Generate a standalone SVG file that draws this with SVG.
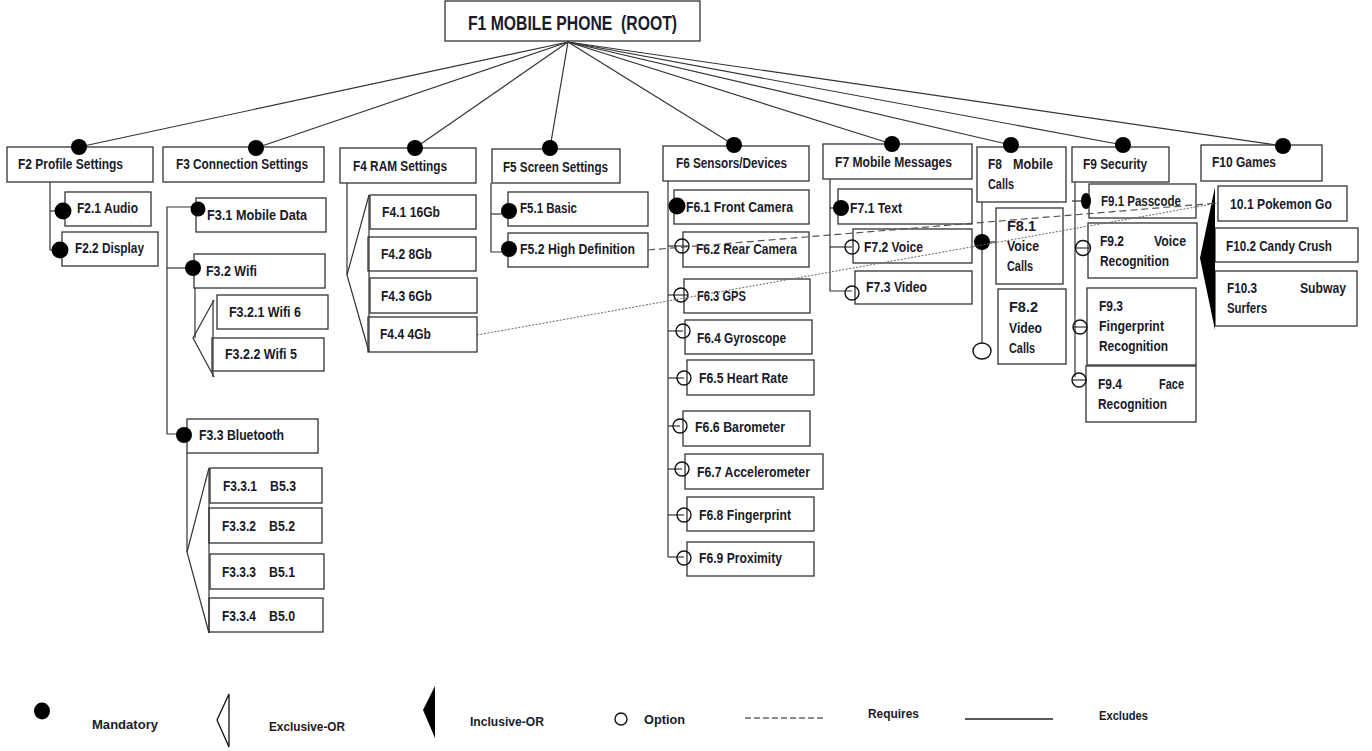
<svg xmlns="http://www.w3.org/2000/svg" width="1372" height="751" viewBox="0 0 1372 751">
<style>
.box{fill:#fff;stroke:#333;stroke-width:1.3}
.t{font-family:"Liberation Sans",Arial,sans-serif;font-weight:bold;font-size:14px;fill:#1a1a2a}
.lg{font-family:"Liberation Sans",Arial,sans-serif;font-weight:bold;font-size:13px;fill:#1a1a2a}
.ln{stroke:#333;stroke-width:1.2;fill:none}
.dot{fill:#000}
.opt{fill:none;stroke:#111;stroke-width:1.4}
.req{stroke:#555;stroke-width:1.2;stroke-dasharray:7 4;fill:none}
.exc{stroke:#666;stroke-width:1;stroke-dasharray:2 1.5;fill:none}
</style>
<rect width="1372" height="751" fill="#fff"/>
<g id="nodes">
<g id="F1"><rect class="box" x="445" y="1" width="255" height="40"/><text class="t" style="font-size:20px" x="468" y="30" textLength="209" lengthAdjust="spacingAndGlyphs">F1 MOBILE PHONE&#160; (ROOT)</text></g>
<g id="F2"><rect class="box" x="7" y="147" width="146" height="35"/><text class="t" x="18" y="169" textLength="105" lengthAdjust="spacingAndGlyphs">F2 Profile Settings</text></g>
<g id="F2.1"><rect class="box" x="65" y="192" width="86" height="34"/><text class="t" x="77" y="213" textLength="61" lengthAdjust="spacingAndGlyphs">F2.1 Audio</text></g>
<g id="F2.2"><rect class="box" x="62" y="232" width="96" height="34"/><text class="t" x="75" y="253" textLength="69" lengthAdjust="spacingAndGlyphs">F2.2 Display</text></g>
<g id="F3"><rect class="box" x="163" y="147" width="161" height="35"/><text class="t" x="176" y="169" textLength="132" lengthAdjust="spacingAndGlyphs">F3 Connection Settings</text></g>
<g id="F3.1"><rect class="box" x="196" y="198" width="130" height="34"/><text class="t" x="207" y="220" textLength="100" lengthAdjust="spacingAndGlyphs">F3.1 Mobile Data</text></g>
<g id="F3.2"><rect class="box" x="194" y="254" width="131" height="34"/><text class="t" x="206" y="276" textLength="51" lengthAdjust="spacingAndGlyphs">F3.2 Wifi</text></g>
<g id="F3.2.1"><rect class="box" x="217" y="295" width="111" height="34"/><text class="t" x="229" y="317" textLength="72" lengthAdjust="spacingAndGlyphs">F3.2.1 Wifi 6</text></g>
<g id="F3.2.2"><rect class="box" x="212" y="338" width="112" height="33"/><text class="t" x="225" y="359" textLength="72" lengthAdjust="spacingAndGlyphs">F3.2.2 Wifi 5</text></g>
<g id="F3.3"><rect class="box" x="187" y="419" width="131" height="34"/><text class="t" x="199" y="440" textLength="85" lengthAdjust="spacingAndGlyphs">F3.3 Bluetooth</text></g>
<g id="F3.3.1"><rect class="box" x="210" y="468" width="112" height="35"/><text class="t" x="223" y="491" textLength="34" lengthAdjust="spacingAndGlyphs">F3.3.1</text><text class="t" x="270" y="491" textLength="26" lengthAdjust="spacingAndGlyphs">B5.3</text></g>
<g id="F3.3.2"><rect class="box" x="209" y="508" width="113" height="35"/><text class="t" x="222" y="531" textLength="34" lengthAdjust="spacingAndGlyphs">F3.3.2</text><text class="t" x="269" y="531" textLength="26" lengthAdjust="spacingAndGlyphs">B5.2</text></g>
<g id="F3.3.3"><rect class="box" x="210" y="554" width="114" height="35"/><text class="t" x="222" y="577" textLength="34" lengthAdjust="spacingAndGlyphs">F3.3.3</text><text class="t" x="269" y="577" textLength="26" lengthAdjust="spacingAndGlyphs">B5.1</text></g>
<g id="F3.3.4"><rect class="box" x="209" y="598" width="114" height="34"/><text class="t" x="222" y="621" textLength="34" lengthAdjust="spacingAndGlyphs">F3.3.4</text><text class="t" x="269" y="621" textLength="26" lengthAdjust="spacingAndGlyphs">B5.0</text></g>
<g id="F4"><rect class="box" x="340" y="148" width="136" height="35"/><text class="t" x="353" y="171" textLength="94" lengthAdjust="spacingAndGlyphs">F4 RAM Settings</text></g>
<g id="F4.1"><rect class="box" x="370" y="195" width="106" height="34"/><text class="t" x="382" y="217" textLength="58" lengthAdjust="spacingAndGlyphs">F4.1 16Gb</text></g>
<g id="F4.2"><rect class="box" x="368" y="237" width="108" height="34"/><text class="t" x="381" y="259" textLength="51" lengthAdjust="spacingAndGlyphs">F4.2 8Gb</text></g>
<g id="F4.3"><rect class="box" x="370" y="278" width="107" height="35"/><text class="t" x="381" y="301" textLength="51" lengthAdjust="spacingAndGlyphs">F4.3 6Gb</text></g>
<g id="F4.4"><rect class="box" x="368" y="317" width="109" height="35"/><text class="t" x="380" y="339" textLength="51" lengthAdjust="spacingAndGlyphs">F4.4 4Gb</text></g>
<g id="F5"><rect class="box" x="492" y="149" width="128" height="34"/><text class="t" x="503" y="172" textLength="105" lengthAdjust="spacingAndGlyphs">F5 Screen Settings</text></g>
<g id="F5.1"><rect class="box" x="508" y="192" width="140" height="34"/><text class="t" x="520" y="213" textLength="57" lengthAdjust="spacingAndGlyphs">F5.1 Basic</text></g>
<g id="F5.2"><rect class="box" x="508" y="233" width="140" height="34"/><text class="t" x="520" y="254" textLength="115" lengthAdjust="spacingAndGlyphs">F5.2 High Definition</text></g>
<g id="F6"><rect class="box" x="663" y="146" width="146" height="35"/><text class="t" x="676" y="168" textLength="111" lengthAdjust="spacingAndGlyphs">F6 Sensors/Devices</text></g>
<g id="F6.1"><rect class="box" x="674" y="190" width="135" height="34"/><text class="t" x="686" y="212" textLength="107" lengthAdjust="spacingAndGlyphs">F6.1 Front Camera</text></g>
<g id="F6.2"><rect class="box" x="683" y="232" width="126" height="35"/><text class="t" x="696" y="254" textLength="101" lengthAdjust="spacingAndGlyphs">F6.2 Rear Camera</text></g>
<g id="F6.3"><rect class="box" x="684" y="279" width="126" height="34"/><text class="t" x="697" y="301" textLength="49" lengthAdjust="spacingAndGlyphs">F6.3 GPS</text></g>
<g id="F6.4"><rect class="box" x="685" y="320" width="127" height="34"/><text class="t" x="697" y="343" textLength="89" lengthAdjust="spacingAndGlyphs">F6.4 Gyroscope</text></g>
<g id="F6.5"><rect class="box" x="687" y="360" width="127" height="35"/><text class="t" x="699" y="383" textLength="89" lengthAdjust="spacingAndGlyphs">F6.5 Heart Rate</text></g>
<g id="F6.6"><rect class="box" x="683" y="411" width="127" height="35"/><text class="t" x="695" y="432" textLength="90" lengthAdjust="spacingAndGlyphs">F6.6 Barometer</text></g>
<g id="F6.7"><rect class="box" x="685" y="454" width="138" height="35"/><text class="t" x="697" y="477" textLength="113" lengthAdjust="spacingAndGlyphs">F6.7 Accelerometer</text></g>
<g id="F6.8"><rect class="box" x="687" y="497" width="127" height="34"/><text class="t" x="699" y="520" textLength="92" lengthAdjust="spacingAndGlyphs">F6.8 Fingerprint</text></g>
<g id="F6.9"><rect class="box" x="687" y="542" width="127" height="34"/><text class="t" x="699" y="563" textLength="83" lengthAdjust="spacingAndGlyphs">F6.9 Proximity</text></g>
<g id="F7"><rect class="box" x="823" y="144" width="149" height="35"/><text class="t" x="835" y="167" textLength="117" lengthAdjust="spacingAndGlyphs">F7 Mobile Messages</text></g>
<g id="F7.1"><rect class="box" x="838" y="189" width="134" height="35"/><text class="t" x="850" y="213" textLength="52" lengthAdjust="spacingAndGlyphs">F7.1 Text</text></g>
<g id="F7.2"><rect class="box" x="853" y="229" width="119" height="34"/><text class="t" x="864" y="252" textLength="59" lengthAdjust="spacingAndGlyphs">F7.2 Voice</text></g>
<g id="F7.3"><rect class="box" x="855" y="271" width="117" height="33"/><text class="t" x="866" y="292" textLength="61" lengthAdjust="spacingAndGlyphs">F7.3 Video</text></g>
<g id="F8"><rect class="box" x="977" y="147" width="89" height="55"/><text class="t" x="988" y="169" textLength="14" lengthAdjust="spacingAndGlyphs">F8</text><text class="t" x="1013" y="169" textLength="40" lengthAdjust="spacingAndGlyphs">Mobile</text><text class="t" x="988" y="189" textLength="26" lengthAdjust="spacingAndGlyphs">Calls</text></g>
<g id="F8.1"><rect class="box" x="996" y="208" width="67" height="76"/><text class="t" x="1007" y="231" textLength="29" lengthAdjust="spacingAndGlyphs">F8.1</text><text class="t" x="1007" y="251" textLength="32" lengthAdjust="spacingAndGlyphs">Voice</text><text class="t" x="1007" y="271" textLength="26" lengthAdjust="spacingAndGlyphs">Calls</text></g>
<g id="F8.2"><rect class="box" x="998" y="289" width="68" height="75"/><text class="t" x="1009" y="312" textLength="29" lengthAdjust="spacingAndGlyphs">F8.2</text><text class="t" x="1009" y="333" textLength="33" lengthAdjust="spacingAndGlyphs">Video</text><text class="t" x="1009" y="353" textLength="26" lengthAdjust="spacingAndGlyphs">Calls</text></g>
<g id="F9"><rect class="box" x="1072" y="147" width="97" height="35"/><text class="t" x="1083" y="169" textLength="64" lengthAdjust="spacingAndGlyphs">F9 Security</text></g>
<g id="F9.1"><rect class="box" x="1089" y="184" width="107" height="34"/><text class="t" x="1101" y="206" textLength="80" lengthAdjust="spacingAndGlyphs">F9.1 Passcode</text></g>
<g id="F9.2"><rect class="box" x="1088" y="223" width="109" height="55"/><text class="t" x="1100" y="246" textLength="24" lengthAdjust="spacingAndGlyphs">F9.2</text><text class="t" x="1154" y="246" textLength="32" lengthAdjust="spacingAndGlyphs">Voice</text><text class="t" x="1100" y="266" textLength="69" lengthAdjust="spacingAndGlyphs">Recognition</text></g>
<g id="F9.3"><rect class="box" x="1087" y="288" width="109" height="77"/><text class="t" x="1099" y="311" textLength="24" lengthAdjust="spacingAndGlyphs">F9.3</text><text class="t" x="1099" y="331" textLength="65" lengthAdjust="spacingAndGlyphs">Fingerprint</text><text class="t" x="1099" y="351" textLength="69" lengthAdjust="spacingAndGlyphs">Recognition</text></g>
<g id="F9.4"><rect class="box" x="1086" y="366" width="110" height="56"/><text class="t" x="1098" y="389" textLength="24" lengthAdjust="spacingAndGlyphs">F9.4</text><text class="t" x="1159" y="389" textLength="25" lengthAdjust="spacingAndGlyphs">Face</text><text class="t" x="1098" y="409" textLength="69" lengthAdjust="spacingAndGlyphs">Recognition</text></g>
<g id="F10"><rect class="box" x="1201" y="145" width="121" height="36"/><text class="t" x="1212" y="167" textLength="64" lengthAdjust="spacingAndGlyphs">F10 Games</text></g>
<g id="F10.1"><rect class="box" x="1218" y="186" width="129" height="35"/><text class="t" x="1230" y="209" textLength="102" lengthAdjust="spacingAndGlyphs">10.1 Pokemon Go</text></g>
<g id="F10.2"><rect class="box" x="1215" y="228" width="143" height="34"/><text class="t" x="1226" y="251" textLength="106" lengthAdjust="spacingAndGlyphs">F10.2 Candy Crush</text></g>
<g id="F10.3"><rect class="box" x="1215" y="271" width="142" height="55"/><text class="t" x="1227" y="293" textLength="30" lengthAdjust="spacingAndGlyphs">F10.3</text><text class="t" x="1300" y="293" textLength="46" lengthAdjust="spacingAndGlyphs">Subway</text><text class="t" x="1227" y="313" textLength="40" lengthAdjust="spacingAndGlyphs">Surfers</text></g>
</g>
<g id="connectors">
<g class="ln">
<line x1="568" y1="42" x2="79" y2="147"/>
<line x1="568" y1="42" x2="256" y2="148"/>
<line x1="568" y1="42" x2="415" y2="148"/>
<line x1="568" y1="42" x2="550" y2="148"/>
<line x1="568" y1="42" x2="734" y2="145"/>
<line x1="568" y1="42" x2="892" y2="144"/>
<line x1="568" y1="42" x2="1011" y2="145"/>
<line x1="568" y1="42" x2="1123" y2="145"/>
<line x1="568" y1="42" x2="1283" y2="146"/>
<polyline points="50,182 50,250 60,250"/>
<line x1="50" y1="211" x2="63" y2="211"/>
<polyline points="198,207 167,207 167,434 184,434"/>
<line x1="167" y1="268" x2="193" y2="268"/>
<line x1="195" y1="288" x2="195" y2="338"/>
<polyline points="214,300 193,338 214,377"/>
<line x1="213" y1="300" x2="213" y2="377"/>
<line x1="187" y1="453" x2="187" y2="552"/>
<polyline points="209,468 187,552 209,633"/>
<line x1="209" y1="468" x2="209" y2="633"/>
<line x1="347" y1="183" x2="347" y2="275"/>
<polyline points="369,195 347,275 369,352"/>
<line x1="369" y1="195" x2="369" y2="352"/>
<polyline points="491,183 491,252 509,252"/>
<line x1="491" y1="214" x2="509" y2="214"/>
<line x1="668" y1="181" x2="668" y2="557"/>
<line x1="668" y1="206" x2="677" y2="206"/>
<line x1="668" y1="246" x2="689" y2="246"/>
<line x1="668" y1="295" x2="688" y2="295"/>
<line x1="668" y1="331" x2="683" y2="331"/>
<line x1="668" y1="378" x2="684" y2="378"/>
<line x1="668" y1="426" x2="680" y2="426"/>
<line x1="668" y1="469" x2="682" y2="469"/>
<line x1="668" y1="515" x2="684" y2="515"/>
<line x1="668" y1="557" x2="684" y2="557"/>
<polyline points="830,179 830,291 852,291"/>
<line x1="830" y1="208" x2="841" y2="208"/>
<line x1="830" y1="247" x2="852" y2="247"/>
<line x1="982" y1="202" x2="982" y2="343"/>
<line x1="982" y1="242" x2="996" y2="242"/>
<line x1="1075" y1="182" x2="1075" y2="377"/>
<line x1="1072" y1="201" x2="1086" y2="201"/>
<line x1="1076" y1="248" x2="1091" y2="248"/>
<line x1="1073" y1="327" x2="1087" y2="327"/>
<line x1="1072" y1="380" x2="1086" y2="380"/>
</g>
<polygon class="dot" points="1215,187 1200,258 1215,330"/>
<g class="dot">
<circle cx="79" cy="147" r="8"/>
<circle cx="256" cy="148" r="8"/>
<circle cx="415" cy="148" r="8"/>
<circle cx="550" cy="148" r="8"/>
<circle cx="734" cy="145" r="8"/>
<circle cx="892" cy="144" r="8"/>
<circle cx="1011" cy="145" r="8"/>
<circle cx="1123" cy="145" r="8"/>
<circle cx="1283" cy="146" r="8"/>
<circle cx="63" cy="211" r="8.5"/>
<circle cx="60" cy="250" r="8.5"/>
<circle cx="198" cy="209" r="7.5"/>
<circle cx="193" cy="268" r="8"/>
<circle cx="184" cy="435" r="8"/>
<circle cx="509" cy="211" r="8"/>
<circle cx="509" cy="249" r="8"/>
<circle cx="677" cy="206" r="8.5"/>
<circle cx="841" cy="208" r="8"/>
<circle cx="982" cy="242" r="8"/>
<ellipse cx="1086" cy="201" rx="5" ry="8"/>
</g>
<g class="opt">
<circle cx="682" cy="246" r="7"/>
<circle cx="681" cy="295" r="7"/>
<circle cx="683" cy="331" r="7"/>
<circle cx="684" cy="378" r="7"/>
<circle cx="680" cy="426" r="7"/>
<circle cx="682" cy="469" r="7"/>
<circle cx="684" cy="515" r="7"/>
<circle cx="684" cy="558" r="7"/>
<circle cx="852" cy="247" r="7"/>
<circle cx="852" cy="293" r="7"/>
<ellipse cx="982" cy="351" rx="9" ry="8"/>
<circle cx="1083" cy="248" r="7.5"/>
<circle cx="1080" cy="327" r="7"/>
<circle cx="1079" cy="380" r="7"/>
</g>
<line class="req" x1="648" y1="250" x2="1218" y2="203"/>
<line class="exc" x1="477" y1="335" x2="1218" y2="203"/>
</g>
<g id="legend">
<ellipse class="dot" cx="42" cy="711" rx="8" ry="8.5"/>
<text class="lg" x="92" y="729" textLength="66" lengthAdjust="spacingAndGlyphs">Mandatory</text>
<polygon points="229,694 217,720 229,747" fill="none" stroke="#111" stroke-width="1.3"/>
<text class="lg" x="269" y="731" textLength="76" lengthAdjust="spacingAndGlyphs">Exclusive-OR</text>
<polygon class="dot" points="435,686 423,710 435,738"/>
<text class="lg" x="470" y="726" textLength="74" lengthAdjust="spacingAndGlyphs">Inclusive-OR</text>
<circle class="opt" cx="621" cy="719" r="6"/>
<text class="lg" x="644" y="724" textLength="41" lengthAdjust="spacingAndGlyphs">Option</text>
<line x1="745" y1="718" x2="824" y2="718" stroke="#666" stroke-width="1.3" stroke-dasharray="6 3"/>
<text class="lg" x="868" y="718" textLength="51" lengthAdjust="spacingAndGlyphs">Requires</text>
<line x1="965" y1="719" x2="1053" y2="719" stroke="#222" stroke-width="1.3"/>
<text class="lg" x="1099" y="720" textLength="49" lengthAdjust="spacingAndGlyphs">Excludes</text>
</g>
</svg>
